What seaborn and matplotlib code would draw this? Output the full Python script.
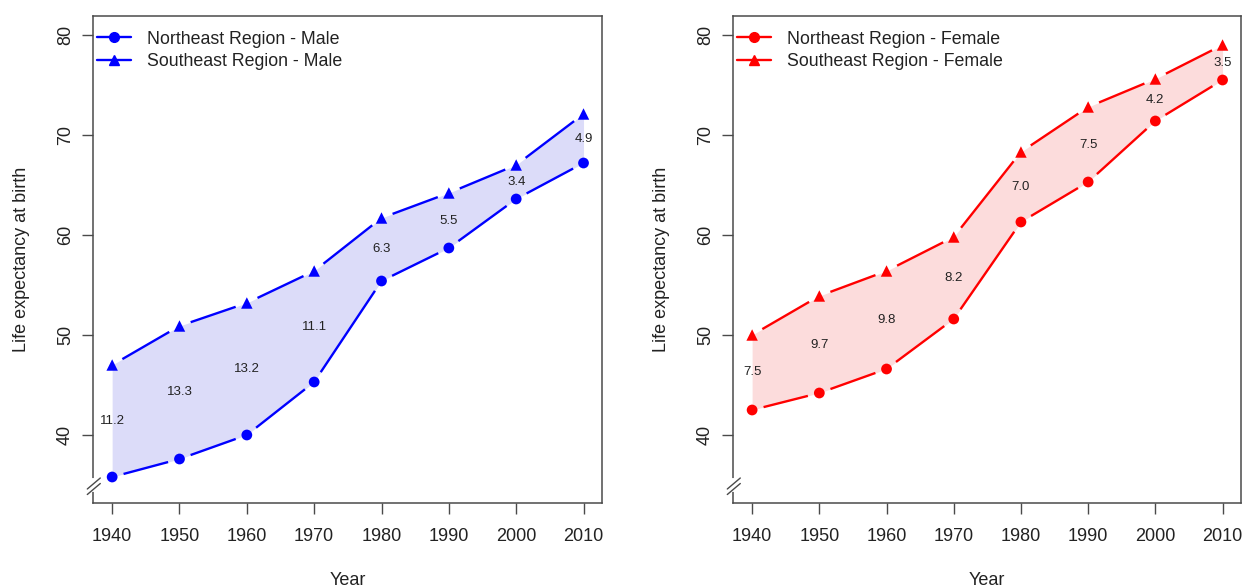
import matplotlib
matplotlib.use("Agg")
import matplotlib.pyplot as plt
from matplotlib.lines import Line2D
import numpy as np
import seaborn as sns


years = ["1940", "1950", "1960", "1970", "1980", "1990", "2000", "2010"]
ne_male = [35.8, 37.6, 40.0, 45.3, 55.4, 58.7, 63.6, 67.2]
se_male = [47.0, 50.9, 53.2, 56.4, 61.7, 64.2, 67.0, 72.1]
ne_female = [42.5, 44.2, 46.6, 51.6, 61.3, 65.3, 71.4, 75.5]
se_female = [50.0, 53.9, 56.4, 59.8, 68.3, 72.8, 75.6, 79.0]
y_ticks = [40, 50, 60, 70, 80]

sns.set_style("white")
plt.rcParams["font.family"] = ["Liberation Sans", "DejaVu Sans"]

FRAME = "#4a4a4a"
TEXT = "#222222"


def gapped_line(ax, x, y, color):
    """
    Draw R style type='b' segments: lines stop short of each marker.
    """
    for i in range(len(x) - 1):
        ax.annotate(
            "",
            xy=(x[i + 1], y[i + 1]),
            xytext=(x[i], y[i]),
            arrowprops=dict(arrowstyle="-", color=color, lw=1.7,
                            shrinkA=8.5, shrinkB=8.5, capstyle="butt"),
            zorder=3,
        )


def axis_break(ax):
    """
    Small // mark on the left spine near the bottom.
    """
    tr = ax.transAxes
    w = ax.get_window_extent().width
    h = ax.get_window_extent().height
    ax.plot([0, 0], [(502.7 - 490) / h, (502.7 - 480) / h], color="white",
            lw=3, transform=tr, clip_on=False, zorder=5)
    for y0 in (489.0, 494.5):
        ax.plot([-6 / w, 7 / w],
                [(502.7 - y0) / h, (502.7 - y0 + 11) / h],
                color=FRAME, lw=1.0, transform=tr, clip_on=False, zorder=6)


def draw_panel(ax, ne, se, color, fill, labels):
    x = np.arange(len(years))
    ne = np.array(ne)
    se = np.array(se)

    ax.fill_between(x, ne, se, color=fill, linewidth=0, zorder=1)
    gapped_line(ax, x, ne, color)
    gapped_line(ax, x, se, color)
    sns.scatterplot(x=x, y=ne, marker="o", color=color, s=60,
                    edgecolor="none", linewidth=0, ax=ax, zorder=4)
    sns.scatterplot(x=x, y=se, marker="^", color=color, s=68,
                    edgecolor="none", linewidth=0, ax=ax, zorder=4)

    for xi, lo, hi in zip(x, ne, se):
        ax.text(xi, (lo + hi) / 2, f"{hi - lo:.1f}", ha="center",
                va="center", fontsize=9.5, color=TEXT, zorder=5)

    ax.set_xlim(-0.28, 7.27)
    ax.set_ylim(33.23, 81.9)
    ax.set_xticks(x)
    ax.set_xticklabels(years)
    ax.set_yticks(y_ticks)
    ax.set_yticklabels([str(v) for v in y_ticks], rotation=90, va="center")
    ax.tick_params(axis="both", direction="out", length=8, width=1,
                   color=FRAME, labelsize=13, labelcolor=TEXT, left=True,
                   bottom=True)
    ax.tick_params(axis="x", pad=10)
    ax.tick_params(axis="y", pad=6)
    for sp in ax.spines.values():
        sp.set_color(FRAME)
        sp.set_linewidth(1.1)

    ax.set_xlabel("Year", fontsize=13, color=TEXT, labelpad=20)
    ax.set_ylabel("Life expectancy at birth", fontsize=13, color=TEXT,
                  labelpad=19)

    handles = [
        Line2D([0], [0], color=color, lw=1.7, marker="o", markersize=7),
        Line2D([0], [0], color=color, lw=1.7, marker="^", markersize=7),
    ]
    ax.legend(handles, labels, loc="upper left", frameon=False, fontsize=12.8,
              handlelength=1.9, handletextpad=0.9, labelspacing=0.33,
              borderaxespad=0, borderpad=0, labelcolor=TEXT,
              bbox_to_anchor=(0.008, 0.97))
    axis_break(ax)


fig = plt.figure(figsize=(12.44, 5.88), dpi=100)
ax1 = fig.add_axes([93.3 / 1244, 85.3 / 588, 508.4 / 1244, 486.7 / 588])
ax2 = fig.add_axes([733.3 / 1244, 85.3 / 588, 507.4 / 1244, 486.7 / 588])

draw_panel(ax1, ne_male, se_male, "#0000FF", "#DCDCF9",
           ["Northeast Region - Male", "Southeast Region - Male"])
draw_panel(ax2, ne_female, se_female, "#FF0000", "#FCDCDC",
           ["Northeast Region - Female", "Southeast Region - Female"])

fig.savefig("out.png", dpi=100)
plt.close(fig)
